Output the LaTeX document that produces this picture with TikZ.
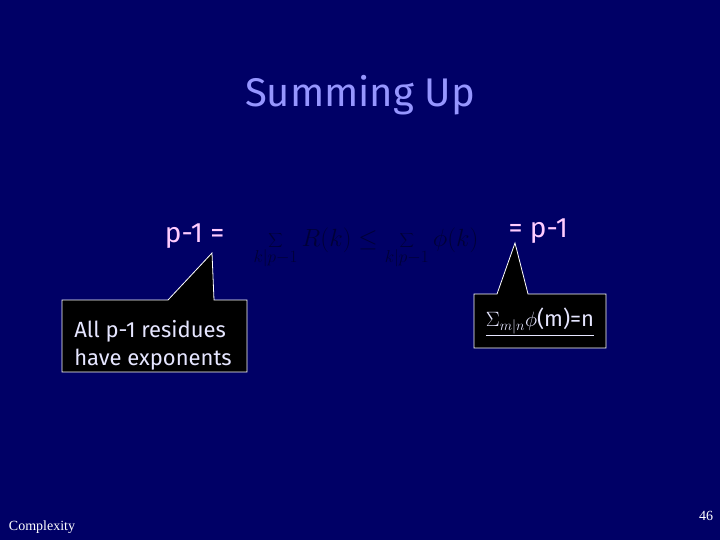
\documentclass[tikz,border=0pt]{standalone}
\usepackage{fontspec}
\setsansfont{Fira Sans}
\newfontfamily\footfont{Liberation Serif}
\begin{document}
\begin{tikzpicture}[x=1pt,y=-1pt,
  callout/.style={draw=white,fill=black,line width=0.8pt},
  ctext/.style={text=calltxt,font=\sffamily\fontsize{22}{28}\selectfont,align=left,inner sep=0pt}]
\definecolor{bg}{RGB}{0,0,102}
\definecolor{titlec}{RGB}{150,150,255}
\definecolor{pinkc}{RGB}{255,204,255}
\definecolor{calltxt}{RGB}{230,230,255}
\definecolor{mathc}{RGB}{0,0,55}
\fill[bg] (0,0) rectangle (720,540);
\useasboundingbox (0,0) rectangle (720,540);
\node[text=titlec,font=\sffamily\fontsize{40}{48}\selectfont] (title) at (360,95) {Summing Up};
\node[text=pinkc,font=\sffamily\fontsize{28}{32}\selectfont,anchor=east] (lhs) at (228,236) {p-1 =};
\node[text=pinkc,font=\sffamily\fontsize{28}{32}\selectfont,anchor=west] (rhs) at (505,231) {= p-1};
\node[text=mathc,font=\fontsize{27}{32}\selectfont] (formula) at (366,248) {$\displaystyle\sum_{k|p-1}R(k)\le\sum_{k|p-1}\phi(k)$};
% left callout
\draw[callout] (62,300) -- (168,300) -- (212,253) -- (214,300) -- (247,300) -- (247,372) -- (62,372) -- cycle;
\node[ctext,anchor=center] (lbox) at (153,345) {All p-1 residues\\have exponents};
% right callout
\draw[callout] (474,294) -- (497,294) -- (515,243) -- (528,294) -- (606,294) -- (606,348) -- (474,348) -- cycle;
\node[ctext,anchor=center] (rbox) at (540,322) {\underline{$\Sigma_{m|n}$$\phi$(m)=n}};
\node[text=white,font=\footfont\fontsize{14}{16}\selectfont] (foot) at (42,527) {Complexity};
\node[text=white,font=\footfont\fontsize{14}{16}\selectfont] (num) at (706,516) {46};
\end{tikzpicture}
\end{document}
